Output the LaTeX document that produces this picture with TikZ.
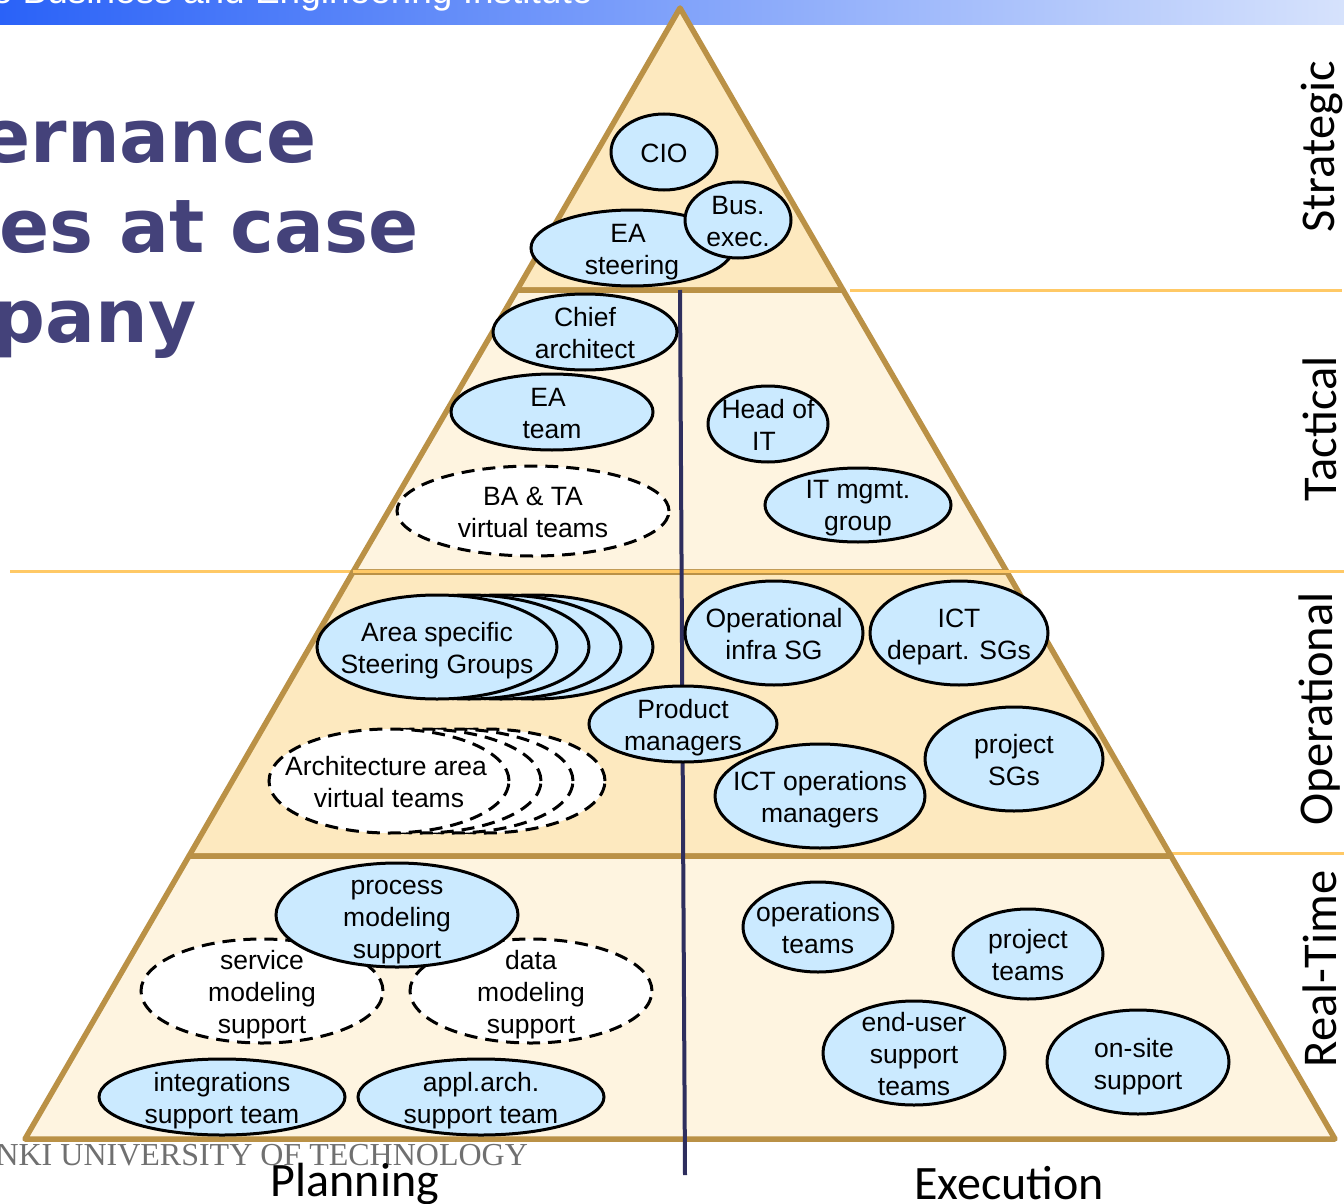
\documentclass[tikz,border=0pt]{standalone}
\usepackage{fontspec}
\setmainfont{Liberation Sans}
\newfontfamily\carl{Carlito}
\newfontfamily\dejab{DejaVu Sans}[BoldFont={DejaVu Sans Bold}]
\newfontfamily\lserif{Liberation Serif}
\usetikzlibrary{shapes.geometric}
\definecolor{banL}{HTML}{2A62F8}
\definecolor{banR}{HTML}{D6E2FC}
\definecolor{bandDark}{HTML}{FDE9BF}
\definecolor{bandLight}{HTML}{FEF4E0}
\definecolor{pyrEdge}{HTML}{BA9146}
\definecolor{sepLine}{HTML}{FFC966}
\definecolor{axisLine}{HTML}{2E2E5E}
\definecolor{titleCol}{HTML}{44427A}
\definecolor{ovalFill}{HTML}{CBEAFF}
\definecolor{footCol}{HTML}{707070}
\tikzset{
  oval/.style={ellipse,draw=black,line width=3pt,fill=ovalFill,inner sep=0pt},
  vteam/.style={oval,fill=white,dash pattern=on 13pt off 8pt},
  ovaltext/.style={inner sep=0pt,align=center,font=\fontsize{26.5}{32}\selectfont},
  rlabel/.style={rotate=90,font=\carl\fontsize{48.5}{52}\selectfont},
  blabel/.style={font=\carl\fontsize{48}{52}\selectfont},
  bigtitle/.style={anchor=base west,text=titleCol,font=\dejab\bfseries\fontsize{74}{80}\selectfont},
  band/.style={draw=pyrEdge,line width=5.5pt,line join=round},
  sep/.style={draw=sepLine,line width=3pt},
}
% style, name, x, y, width, height, text shift down; the text follows as a group
\newcommand{\ov}[7][oval]{\node[#1,minimum width={#5pt-2pt},minimum height={#6pt-2pt}] (#2) at (#3,#4) {};\def\ovname{#2}\def\ovdy{#7}\ovtext}
\newcommand{\ovtext}[1]{\node[ovaltext,yshift=-\ovdy pt] (\ovname-t) at (\ovname.center) {#1};}
\begin{document}
\begin{tikzpicture}[x=1pt,y=-1pt]
\useasboundingbox (0,0) rectangle (1344,1204);
% banner
\shade[left color=banL,right color=banR] (0,0) rectangle (1344,25);
\node[anchor=base east,text=white,font=\fontsize{37}{40}\selectfont] (banner) at (596,4) {e Business and Engineering Institute};
% title
\node[bigtitle] (t1) at (-23,162) {ernance};
\node[bigtitle] (t2) at (-4,252) {es at case};
\node[bigtitle] (t3) at (-11,342) {pany};
% separators
\coordinate (s1a) at (850,290); \coordinate (s1b) at (1342,290);
\coordinate (s2a) at (10,571); \coordinate (s2b) at (1344,571);
\coordinate (s3a) at (1170,853); \coordinate (s3b) at (1344,853);
\draw[sep] (s1a) -- (s1b);
\draw[sep] (s2a) -- (s2b);
\draw[sep] (s3a) -- (s3b);
% pyramid
\draw[band,fill=bandDark] (680,8) -- (843,290) -- (517,290) -- cycle;
\draw[band,fill=bandLight] (517,290) -- (843,290) -- (1007,572) -- (353,572) -- cycle;
\draw[band,fill=bandDark] (353,572) -- (1007,572) -- (1171,856) -- (189,856) -- cycle;
\draw[band,fill=bandLight] (189,856) -- (1171,856) -- (1335,1139) -- (25,1139) -- cycle;
\draw[sep] (353,571) -- (s2b);
% footer
\node[anchor=base west,text=footCol,font=\lserif\fontsize{32}{36}\selectfont] (foot) at (-8,1165) {NKI UNIVERSITY OF TECHNOLOGY};
% axis
\coordinate (axTop) at (680,290); \coordinate (axBot) at (685,1175);
\draw[axisLine,line width=4pt] (axTop) -- (axBot);
% strategic
\ov{cio}{664}{152}{108}{78}{1}{CIO}
\ov{steer}{632}{248}{204}{78}{4}{EA\hspace*{8pt}\\steering}
\ov{bus}{738}{220}{108}{78}{2}{Bus.\\exec.}
% tactical
\ov{chief}{585}{332}{186}{78}{1}{Chief\\architect}
\ov{eateam}{552}{412}{204}{78}{2}{EA\hspace*{8pt}\\team}
\ov[vteam]{ba}{533}{511}{274}{92}{1}{BA \& TA\\virtual teams}
\ov{head}{768}{424}{122}{78}{1}{Head of\\IT\hspace*{8pt}}
\ov{itm}{858}{505}{188}{76}{3}{IT mgmt.\\group}
% operational
\ov{sg4}{533}{647}{242}{106}{0}{}
\ov{sg3}{501}{647}{242}{106}{0}{}
\ov{sg2}{469}{647}{242}{106}{0}{}
\ov{sg1}{437}{647}{242}{106}{4}{Area specific\\Steering Groups}
\ov[vteam]{av4}{485}{781}{242}{106}{0}{}
\ov[vteam]{av3}{453}{781}{242}{106}{0}{}
\ov[vteam]{av2}{421}{781}{242}{106}{0}{}
\ov[vteam]{av1}{389}{781}{242}{106}{1}{Architecture area\hspace*{6pt}\\virtual teams}
\ov{infra}{774}{633}{180}{106}{1}{Operational\\infra SG}
\ov{ict}{959}{633}{180}{106}{4}{ICT\\depart. SGs}
\ov{prod}{683}{724}{190}{78}{4}{Product\\managers}
\ov{icto}{820}{796}{212}{106}{4}{ICT operations\\managers}
\ov{psg}{1014}{759}{180}{106}{1}{project\\SGs}
% real-time
\ov[vteam]{serv}{262}{991}{244}{106}{4}{service\\modeling\\support}
\ov[vteam]{data}{531}{991}{244}{106}{4}{data\\modeling\\support}
\ov{proc}{397}{915}{244}{106}{7}{process\\modeling\\support}
\ov{integ}{222}{1097}{248}{78}{4}{integrations\\support team}
\ov{appl}{481}{1097}{248}{78}{4}{appl.arch.\\support team}
\ov{opt}{818}{927}{152}{92}{1}{operations\\teams}
\ov{prt}{1028}{954}{152}{92}{1}{project\\teams}
\ov{endu}{914}{1053}{184}{106}{1}{end-user\\support\\teams}
\ov{onsite}{1138}{1062}{184}{106}{5}{on-site\hspace*{8pt}\\support}
% labels
\node[rlabel] (l1) at (1322,147) {Strategic};
\node[rlabel] (l2) at (1320,429) {Tactical};
\node[rlabel] (l3) at (1320,709) {Operational};
\node[rlabel] (l4) at (1320,969) {Real-Time};
\node[blabel] (pl) at (355,1184) {Planning};
\node[blabel] (ex) at (1009,1183) {Execution};
\end{tikzpicture}
\end{document}
